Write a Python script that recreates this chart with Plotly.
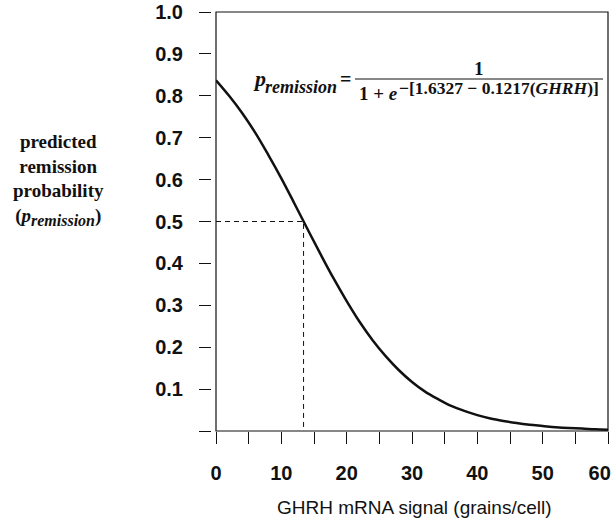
import plotly.graph_objects as go

# --- Datos ---
ghrh = [0, 2, 4, 6, 8, 10, 12, 14, 16, 18, 20, 22, 24, 26, 28, 30,
        32, 34, 36, 38, 40, 42, 44, 46, 48, 50, 52, 54, 56, 58, 60]
p_remision = [0.837, 0.800, 0.759, 0.712, 0.659, 0.603, 0.543, 0.482,
              0.422, 0.364, 0.310, 0.260, 0.216, 0.178, 0.145, 0.117,
              0.094, 0.076, 0.060, 0.048, 0.038, 0.030, 0.024, 0.019,
              0.015, 0.012, 0.009, 0.007, 0.006, 0.004, 0.003]

# punto de corte p = 0.5
corte_x = [0, 13.4, 13.4]
corte_y = [0.5, 0.5, 0]

y_ticks = [0, 0.1, 0.2, 0.3, 0.4, 0.5, 0.6, 0.7, 0.8, 0.9, 1.0]
y_labels = ["", "0.1", "0.2", "0.3", "0.4", "0.5", "0.6", "0.7", "0.8", "0.9", "1.0"]
x_ticks = [0, 10, 20, 30, 40, 50, 60]
# el 60 va pegado al borde: se desplaza con espacios
x_labels = ["0", "10", "20", "30", "40", "50", "60\u00a0\u00a0\u00a0"]

negro = "#111111"
sans = "Liberation Sans"
serif = "Liberation Serif"

fig = go.Figure()

fig.add_trace(go.Scatter(
    x=corte_x, y=corte_y, mode="lines",
    line=dict(color=negro, width=1, dash="5px,4px"),
    showlegend=False, hoverinfo="skip"
))

fig.add_trace(go.Scatter(
    x=ghrh, y=p_remision, mode="lines",
    line=dict(color=negro, width=2.5, shape="spline"),
    showlegend=False
))

W, H = 613, 529
ml, mr, mt, mb = 211, 5, 12, 98
pw = W - ml - mr
ph = H - mt - mb


def px(x):
    return (x - ml) / pw


def py(y):
    return (H - mb - y) / ph


def texto(t, x, y, size, xanchor="left", family=serif):
    return dict(text=t, xref="paper", yref="paper", x=px(x), y=py(y),
                xanchor=xanchor, yanchor="middle", showarrow=False,
                font=dict(family=family, size=size, color=negro))


fig.update_layout(
    width=W, height=H,
    margin=dict(l=ml, r=mr, t=mt, b=mb, autoexpand=False),
    plot_bgcolor="white",
    paper_bgcolor="white",
    font=dict(family=sans, color=negro),
    xaxis=dict(
        domain=[5 / pw, 1],
        range=[0, 60],
        tickvals=x_ticks, ticktext=x_labels,
        ticks="outside", ticklen=12, tickwidth=1, tickcolor=negro,
        minor=dict(dtick=5, tick0=0, ticks="outside", ticklen=12, tickcolor=negro),
        showgrid=False, zeroline=False, showline=False,
        tickfont=dict(family=sans, size=20, color=negro, weight="bold"),
        ticklabelstandoff=12, ticklabeloverflow="allow", automargin=False,
    ),
    yaxis=dict(
        anchor="free", position=0,
        range=[0, 1],
        tickvals=y_ticks, ticktext=y_labels,
        ticks="outside", ticklen=12, tickwidth=1, tickcolor=negro,
        showgrid=False, zeroline=False, showline=False,
        tickfont=dict(family=sans, size=20, color=negro, weight="bold"),
        ticklabelstandoff=12, automargin=False,
    ),
    shapes=[
        dict(type="rect", xref="x domain", yref="y domain",
             x0=0, x1=1, y0=0, y1=1, line=dict(color=negro, width=1.2)),
        dict(type="line", xref="paper", yref="paper",
             x0=px(355), x1=px(603), y0=py(79), y1=py(79),
             line=dict(color=negro, width=1)),
    ],
    annotations=[
        texto("GHRH mRNA signal (grains/cell)", 414, 508, 19, "center", sans),
        dict(text="<b>predicted<br>remission<br>probability<br>"
                  "(<i>p<sub><span style='font-size:16px'>remission</span></sub></i>)</b>",
             xref="paper", yref="paper", x=px(58), y=py(180),
             xanchor="center", yanchor="middle", align="center", showarrow=False,
             font=dict(family=serif, size=19, color=negro)),
        # ecuacion
        texto("<b><i>p</i></b>", 251, 78, 22),
        texto("<b><i>remission</i></b>", 263, 87, 18),
        texto("<b>=</b>", 338, 79, 20),
        texto("<b>1</b>", 479, 68, 19, "center"),
        texto("<b>1 + <i>e</i></b>", 357, 94, 19),
        texto("<b>−[1.6327 − 0.1217(<i>GHRH</i>)]</b>", 397, 88, 17.5),
    ],
)

fig.write_html("out.html", config={"displayModeBar": False},
               post_script="document.body.style.margin='0';")
